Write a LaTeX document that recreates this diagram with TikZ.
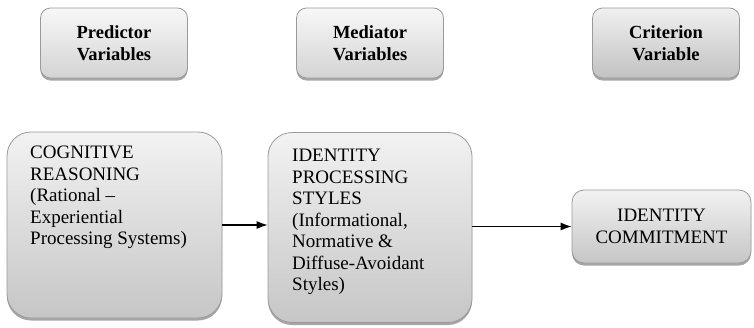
\documentclass[tikz,border=0pt]{standalone}
\usepackage{fontspec}
\setmainfont{Liberation Serif}
\usetikzlibrary{shadows,arrows.meta}
\definecolor{bordergray}{HTML}{9A9A9A}
\definecolor{topg}{HTML}{F2F2F2}
\definecolor{botg}{HTML}{C6C6C6}
\begin{document}
\begin{tikzpicture}[x=1pt,y=-1pt,
  shade box/.style={draw=bordergray, line width=0.8pt, top color=topg, bottom color=botg,
    drop shadow={shadow xshift=0pt, shadow yshift=-2.5pt, fill=black, opacity=0.35}},
  headbox/.style={shade box, rounded corners=10pt, top color=white!97!black, bottom color=black!17,
    minimum width=147pt, minimum height=70pt, align=center,
    font=\fontsize{18.5}{22.5}\selectfont\bfseries},
  bigbox/.style={shade box, rounded corners=24pt, inner sep=0pt},
  bodytext/.style={anchor=north west, align=left, inner sep=0pt,
    font=\fontsize{19}{21.5}\selectfont},
  link/.style={draw=black, line width=1.2pt, -{Latex[length=11pt,width=8pt]}}
]
\useasboundingbox (0,0) rectangle (754,327);

% header boxes
\node[headbox] (pred) at (114,43) {Predictor\\Variables};
\node[headbox] (med) at (370,43) {Mediator\\Variables};
\node[headbox, top color=black!6, bottom color=black!24] (crit) at (666,43) {Criterion\\Variable};

% main boxes
\node[bigbox, minimum width=215pt, minimum height=186pt] (cog) at (114.5,225) {};
\node[bodytext, anchor=north west] (cogtxt) at (30,146)
  {COGNITIVE\\REASONING\\(Rational --\\Experiential\\Processing Systems)};

\node[bigbox, minimum width=204pt, minimum height=190pt] (proc) at (370,227.5) {};
\node[bodytext, anchor=north west] (proctxt) at (292,149)
  {IDENTITY\\PROCESSING\\STYLES\\(Informational,\\Normative \&\\Diffuse-Avoidant\\Styles)};

\node[shade box, rounded corners=12pt, minimum width=179pt, minimum height=73pt,
  align=center, font=\fontsize{19}{22}\selectfont] (commit) at (661.5,226.5)
  {IDENTITY\\COMMITMENT};

% connectors
\draw[link] (cog.east) -- (proc.west |- cog.east);
\draw[link] (proc.east |- commit.west) -- (commit.west);
\end{tikzpicture}
\end{document}
